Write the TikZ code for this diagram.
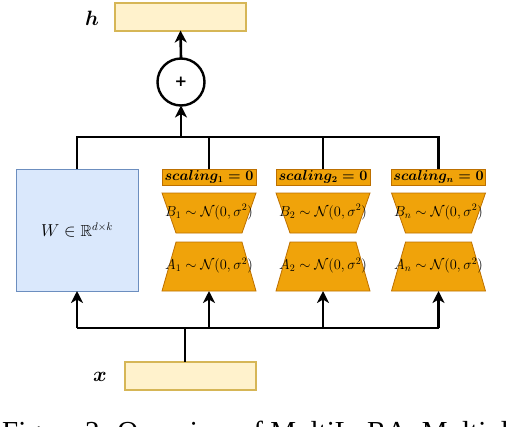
\documentclass[tikz,border=0pt]{standalone}
\usepackage{amsmath,amssymb}
\usepackage{fontspec}
\newfontfamily\capfont{Liberation Serif}
\newfontfamily\plusfont{DejaVu Sans}
\usetikzlibrary{arrows.meta,positioning,calc,shapes.geometric}
\definecolor{iofill}{HTML}{FFF2CC}
\definecolor{ioline}{HTML}{D6B656}
\definecolor{wfill}{HTML}{DAE8FC}
\definecolor{wline}{HTML}{6C8EBF}
\definecolor{orfill}{HTML}{F0A30A}
\definecolor{orline}{HTML}{BD7000}
\tikzset{
  iobox/.style  ={draw=ioline, fill=iofill, line width=2pt, minimum width=131pt,
                  minimum height=28pt, inner sep=0pt, outer sep=0pt},
  wbox/.style   ={draw=wline, fill=wfill, line width=0.8pt, minimum width=122pt,
                  minimum height=122pt, inner sep=0pt, outer sep=0pt,
                  font=\fontsize{16}{19}\selectfont},
  scbox/.style  ={draw=orline, fill=orfill, line width=0.8pt, minimum width=94pt,
                  minimum height=16pt, inner sep=0pt, outer sep=0pt,
                  font=\fontsize{13.5}{15}\selectfont},
  trap/.style   ={trapezium, trapezium stretches body=true, draw=orline, fill=orfill,
                  line width=0.8pt, minimum width=94pt, inner sep=0pt, outer sep=0pt,
                  font=\fontsize{14.5}{16}\selectfont},
  downtrap/.style={trap, shape border rotate=180, text height=23pt, text depth=17pt,
                  trapezium left angle=70.7, trapezium right angle=70.7},
  uptrap/.style ={trap, text height=27.5pt, text depth=21.5pt,
                  trapezium left angle=74, trapezium right angle=74},
  sumnode/.style={circle, draw, line width=2.4pt, minimum size=47pt, inner sep=0pt,
                  outer sep=0pt, font=\plusfont\fontsize{15}{15}\selectfont\bfseries},
  lbl/.style    ={font=\fontsize{22}{24}\selectfont, inner sep=0pt},
  ln/.style     ={line width=2.6pt},
  ar/.style     ={ln, -{Stealth[length=12pt,width=12pt,inset=3.5pt]}},
}
\begin{document}
\begin{tikzpicture}[x=1pt, y=-1pt]
\useasboundingbox (0,0) rectangle (518,426);
% output and sum
\node[iobox] (hout) at (180.5,16.5) {};
\node[lbl] (hlbl) at (92,18) {$\boldsymbol{h}$};
\node[sumnode] (sum) at (181,82) {+};
% frozen weight
\node[wbox] (W) at (77,230) {$W\in\mathbb{R}^{d\times k}$};
% lora modules
\node[scbox] (sc1) at (209,177) {$\boldsymbol{scaling_1=0}$};
\node[scbox] (sc2) at (323,177) {$\boldsymbol{scaling_2=0}$};
\node[scbox] (scn) at (438.5,177) {$\boldsymbol{scaling_n=0}$};
\node[downtrap] (B1) at (209,213) {\makebox[0pt]{$B_1\sim\mathcal{N}(0,\sigma^2)$}};
\node[downtrap] (B2) at (323,213) {\makebox[0pt]{$B_2\sim\mathcal{N}(0,\sigma^2)$}};
\node[downtrap] (Bn) at (438.5,213) {\makebox[0pt]{$B_n\sim\mathcal{N}(0,\sigma^2)$}};
\node[uptrap] (A1) at (209,266.5) {\makebox[0pt]{$A_1\sim\mathcal{N}(0,\sigma^2)$}};
\node[uptrap] (A2) at (323,266.5) {\makebox[0pt]{$A_2\sim\mathcal{N}(0,\sigma^2)$}};
\node[uptrap] (An) at (438.5,266.5) {\makebox[0pt]{$A_n\sim\mathcal{N}(0,\sigma^2)$}};
% input
\node[iobox] (xin) at (190,375.5) {};
\node[lbl] (xlbl) at (100,377) {$\boldsymbol{x}$};
\node[anchor=base west, inner sep=0pt, font=\capfont\fontsize{29}{32}\selectfont]
  (cap) at (2,441) {Figure 2: Overview of MultiLoRA. Multiple};
% buses
\coordinate (topbus) at (0,137);
\coordinate (botbus) at (0,328);
\draw[ar] (sum.north) -- (hout.south);
\draw[ar] (sum.south |- topbus) -- (sum.south);
\draw[ln] (W.north) -- (W.north |- topbus) -| (scn.north);
\draw[ln] (sc1.north |- topbus) -- (sc1.north);
\draw[ln] (sc2.north |- topbus) -- (sc2.north);
\draw[ln] ([xshift=-5pt]xin.north) -- ([xshift=-5pt]xin.north |- botbus);
\draw[ln] (W.south |- botbus) -- (An.south |- botbus);
\draw[ar] (W.south |- botbus) -- (W.south);
\draw[ar] (A1.south |- botbus) -- (A1.south);
\draw[ar] (A2.south |- botbus) -- (A2.south);
\draw[ar] (An.south |- botbus) -- (An.south);
\end{tikzpicture}
\end{document}
